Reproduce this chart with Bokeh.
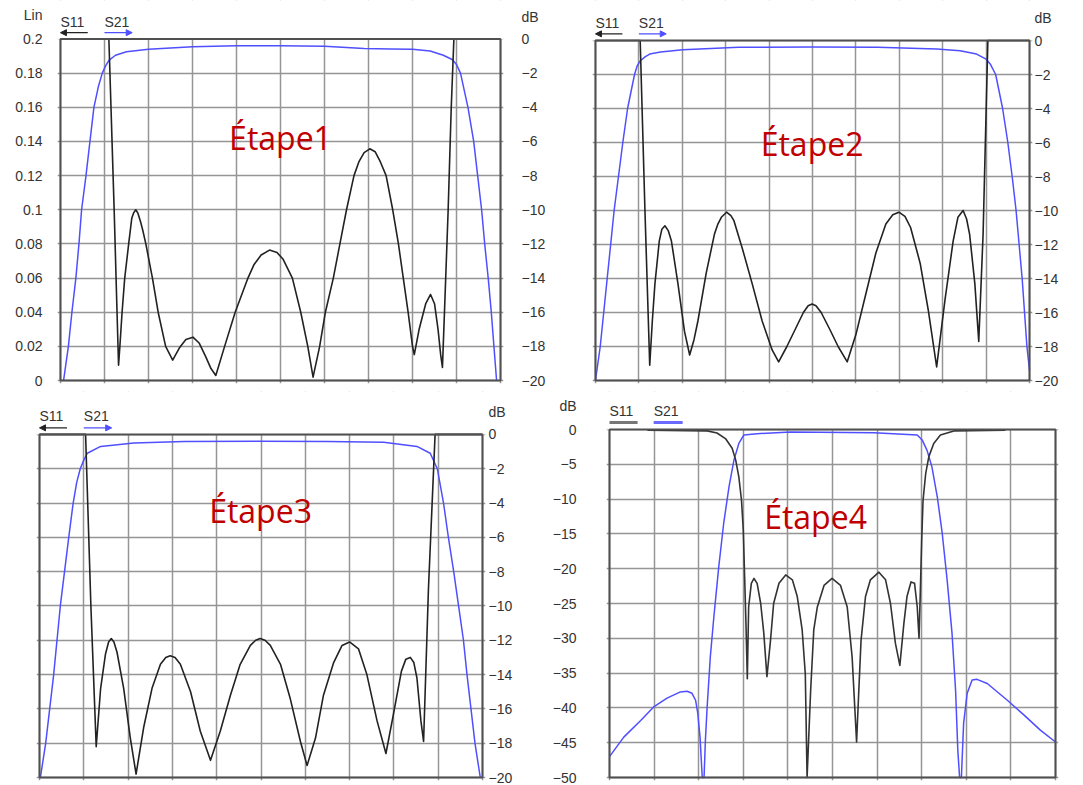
from bokeh.plotting import figure
from bokeh.models import (Range1d, LinearAxis, FixedTicker, NumeralTickFormatter,
                          Arrow, NormalHead, Grid, BoxAnnotation)
from bokeh.layouts import row, column
from bokeh.embed import file_html
from bokeh.resources import INLINE
from bokeh.core.properties import value

# ---------------- data ----------------
GRID_X = [0, 1, 2, 3, 4, 5, 6, 7, 8, 9, 10]
LIN_TICKS = [0, 0.02, 0.04, 0.06, 0.08, 0.1, 0.12, 0.14, 0.16, 0.18, 0.2]
DB20_TICKS = [0, -2, -4, -6, -8, -10, -12, -14, -16, -18, -20]
DB50_TICKS = [0, -5, -10, -15, -20, -25, -30, -35, -40, -45, -50]
TITLES = ["Étape1", "Étape2", "Étape3", "Étape4"]
LEGEND = ["S11", "S21"]

# Etape 1 : S11 (linear), S21 (dB)
P1_S11_X = [1.10, 1.16, 1.22, 1.28, 1.32, 1.35, 1.40, 1.46, 1.55, 1.62, 1.66, 1.71, 1.76, 1.82, 1.87,
            1.94, 2.09, 2.22, 2.39, 2.55, 2.70, 2.85, 3.01, 3.15, 3.30, 3.42, 3.53, 3.73, 3.97, 4.26,
            4.40, 4.56, 4.75, 4.92, 5.06, 5.27, 5.46, 5.62, 5.74, 5.89, 6.02, 6.20, 6.35, 6.50, 6.67,
            6.78, 6.90, 7.03, 7.15, 7.27, 7.40, 7.55, 7.68, 7.79, 7.90, 8.00, 8.04, 8.15, 8.30, 8.41,
            8.50, 8.58, 8.64, 8.68, 8.74, 8.81, 8.88, 8.94]
P1_S11_Y = [0.20, 0.15, 0.10, 0.045, 0.009, 0.02, 0.04, 0.06, 0.08, 0.095, 0.098, 0.100, 0.098, 0.093, 0.088,
            0.08, 0.06, 0.04, 0.02, 0.012, 0.019, 0.024, 0.0254, 0.022, 0.014, 0.007, 0.003, 0.02, 0.04, 0.06,
            0.068, 0.0735, 0.0764, 0.075, 0.071, 0.06, 0.04, 0.02, 0.002, 0.02, 0.04, 0.06, 0.08, 0.10, 0.12,
            0.128, 0.1335, 0.1357, 0.134, 0.128, 0.12, 0.10, 0.08, 0.06, 0.04, 0.02, 0.0152, 0.03, 0.045, 0.0504,
            0.045, 0.03, 0.015, 0.0077, 0.05, 0.10, 0.16, 0.20]
P1_S21_X = [0.07, 0.18, 0.26, 0.35, 0.42, 0.48, 0.58, 0.67, 0.76, 0.86, 0.95, 1.02, 1.10, 1.25, 1.50,
            2.00, 2.50, 3.00, 3.50, 4.00, 5.00, 6.00, 6.90, 7.50, 8.00, 8.40, 8.70, 8.90, 9.00, 9.09,
            9.26, 9.39, 9.48, 9.57, 9.64, 9.72, 9.79, 9.85, 9.91]
P1_S21_Y = [-20, -18, -16, -14, -12, -10, -8, -6, -4, -2.8, -2.0, -1.6, -1.25, -0.95, -0.75,
            -0.6, -0.52, -0.45, -0.42, -0.4, -0.4, -0.42, -0.55, -0.58, -0.6, -0.7, -0.95, -1.2, -1.5, -2.0,
            -4, -6, -8, -10, -12, -14, -16, -18, -20]

# Etape 2 : dB
P2_S11_X = [0, 1.03, 1.14, 1.25, 1.31, 1.37, 1.47, 1.53, 1.60, 1.68, 1.75, 1.90, 2.05, 2.17, 2.27,
            2.36, 2.55, 2.74, 2.82, 2.90, 3.02, 3.12, 3.19, 3.38, 3.61, 3.84, 4.07, 4.22, 4.41, 4.60,
            4.79, 4.90, 4.99, 5.08, 5.20, 5.40, 5.59, 5.80, 6.00, 6.23, 6.46, 6.69, 6.85, 6.99, 7.13,
            7.26, 7.48, 7.67, 7.86, 8.05, 8.24, 8.35, 8.47, 8.55, 8.62, 8.74, 8.83, 8.93, 9.04, 10]
P2_S11_Y = [0, 0, -10, -19.1, -16.5, -14.3, -11.8, -11.1, -10.9, -11.2, -11.8, -14.3, -17.1, -18.5, -17.6,
            -16.5, -13.7, -11.4, -10.8, -10.4, -10.1, -10.3, -10.6, -12.2, -14.3, -16.5, -18.2, -18.9, -18.0, -17.0,
            -16.0, -15.6, -15.5, -15.6, -16.0, -17.0, -18.0, -18.9, -17.3, -14.9, -12.5, -10.8, -10.25, -10.1, -10.35,
            -11.0, -13.1, -15.9, -19.2, -15.3, -11.8, -10.4, -10.0, -10.5, -11.4, -14.3, -17.7, -11.4, 0, 0]
P2_S21_X = [0, 0.11, 0.27, 0.43, 0.63, 0.74, 0.82, 0.90, 0.96, 1.03, 1.15, 1.25, 1.50, 2.01, 3.30,
            5.00, 6.50, 7.86, 8.40, 8.78, 9.00, 9.10, 9.22, 9.38, 9.50, 9.60, 9.69, 9.83, 9.94, 10.0]
P2_S21_Y = [-20, -18, -14, -10, -6, -4, -3, -2, -1.5, -1.2, -0.95, -0.8, -0.68, -0.55, -0.4,
            -0.38, -0.4, -0.5, -0.6, -0.8, -1.1, -1.4, -2, -4, -6, -8, -10, -14, -18, -19.4]

# Etape 3 : dB
P3_S11_X = [0, 1.04, 1.16, 1.28, 1.38, 1.49, 1.56, 1.62, 1.68, 1.75, 1.90, 2.05, 2.18, 2.35, 2.54,
            2.73, 2.85, 2.95, 3.06, 3.18, 3.41, 3.63, 3.86, 4.08, 4.31, 4.53, 4.76, 4.88, 4.98, 5.09,
            5.21, 5.44, 5.66, 5.89, 6.04, 6.23, 6.41, 6.64, 6.83, 7.00, 7.20, 7.39, 7.62, 7.82, 7.99,
            8.17, 8.27, 8.37, 8.45, 8.52, 8.61, 8.67, 8.78, 8.93, 10]
P3_S11_Y = [0, 0, -10, -18.2, -14.8, -12.8, -12.1, -11.9, -12.1, -12.7, -14.8, -17.7, -19.8, -17.1, -14.8,
            -13.4, -13.0, -12.9, -13.0, -13.4, -15.0, -17.3, -19.0, -17.3, -15.2, -13.4, -12.3, -12.0, -11.9, -12.0,
            -12.3, -13.4, -15.4, -17.9, -19.3, -17.7, -15.2, -13.3, -12.3, -12.1, -12.5, -14.0, -16.7, -18.6, -16.3,
            -13.8, -13.1, -13.0, -13.3, -14.2, -16.7, -17.9, -9.0, 0, 0]
P3_S21_X = [0.02, 0.14, 0.32, 0.47, 0.66, 0.76, 0.84, 0.92, 1.00, 1.08, 1.38, 2.13, 3.26, 5.00, 6.50,
            7.77, 8.52, 8.82, 8.98, 9.12, 9.23, 9.35, 9.46, 9.57, 9.65, 9.74, 9.83, 9.95]
P3_S21_Y = [-20, -18, -14, -10, -6, -4, -2.8, -2.0, -1.5, -1.1, -0.7, -0.5, -0.42, -0.4, -0.42,
            -0.46, -0.7, -1.1, -2, -4, -6, -8, -10, -12, -14, -16, -18, -20]

# Etape 4 : dB
P4_S11_X = [0.85, 2.19, 2.41, 2.60, 2.75, 2.83, 2.90, 2.96, 3.00, 3.03, 3.06, 3.09, 3.12, 3.18, 3.24,
            3.31, 3.39, 3.46, 3.53, 3.61, 3.68, 3.80, 3.95, 4.10, 4.21, 4.32, 4.39, 4.43, 4.51, 4.58,
            4.66, 4.81, 4.99, 5.18, 5.33, 5.44, 5.54, 5.59, 5.64, 5.74, 5.85, 6.04, 6.19, 6.30, 6.41,
            6.51, 6.60, 6.67, 6.76, 6.84, 6.90, 6.94, 6.97, 7.00, 7.03, 7.09, 7.16, 7.27, 7.42, 7.72,
            8.88]
P4_S11_Y = [-0.1, -0.2, -0.5, -1.3, -2.7, -4.4, -6.8, -10.2, -14.5, -21.2, -27.9, -35.8, -25.5, -22.1, -21.4,
            -22.1, -25.0, -29.3, -35.5, -30.3, -25.0, -22.1, -20.9, -21.6, -24.0, -28.8, -35.1, -50, -37.5, -28.8,
            -25.5, -22.4, -21.4, -22.4, -25.5, -32.7, -44.9, -37.5, -30.3, -24.0, -21.6, -20.5, -21.6, -25.0, -30.7,
            -33.9, -27.9, -24.0, -21.9, -22.1, -25.5, -30.0, -23.1, -15.9, -10.2, -6.3, -3.9, -2.0, -0.8, -0.2,
            -0.1]
P4_S21_X = [0, 0.32, 0.70, 1.00, 1.29, 1.59, 1.74, 1.85, 1.93, 1.98, 2.03, 2.08, 2.12, 2.15, 2.19,
            2.26, 2.34, 2.45, 2.56, 2.68, 2.79, 2.90, 3.01, 3.31, 4.06, 5.93, 6.90, 7.01, 7.12, 7.23,
            7.35, 7.46, 7.57, 7.68, 7.76, 7.81, 7.85, 7.89, 7.94, 8.02, 8.13, 8.24, 8.47, 8.92, 9.29,
            9.66, 10.0]
P4_S21_Y = [-47, -44.2, -41.8, -39.8, -38.6, -37.7, -37.6, -37.9, -38.9, -40.8, -44.2, -50, -50, -44.7, -39.8,
            -32.7, -26.9, -19.7, -13.5, -8.2, -4.4, -2.0, -0.8, -0.6, -0.35, -0.45, -0.8, -1.5, -3.0, -5.4,
            -9.7, -14.9, -21.6, -29.3, -37.5, -46.1, -50, -50, -42.2, -37.9, -36.0, -35.9, -36.5, -38.9, -41.0,
            -43.2, -44.9]

# ---------------- styling helpers ----------------
BLUE = "#4f4fff"
BLACK = "#222222"
RED = "#C00000"
TXT = "#333333"
FONT = "Liberation Sans"
PAD = 3  # px of frame kept around the drawn plot box so its border is not clipped


def yrange(ybot, ytop, box_h, top_px):
    u = (ytop - ybot) / box_h
    return Range1d(ybot - PAD * u, ytop + top_px * u)


def base(width, height, box_left, box_w, top_px, box_h, ybot, ytop, yloc):
    xu = 10.0 / box_w
    p = figure(width=width, height=height,
               x_range=Range1d(-PAD * xu, 10 + PAD * xu),
               y_range=yrange(ybot, ytop, box_h, top_px),
               x_axis_location=None, y_axis_location=yloc, toolbar_location=None,
               output_backend="svg", title=None,
               min_border_left=box_left - PAD,
               min_border_right=width - box_left - box_w - PAD,
               min_border_top=0,
               min_border_bottom=height - top_px - box_h - PAD)
    p.outline_line_color = None
    p.background_fill_color = "white"
    p.border_fill_color = "white"
    grids = [r for r in p.center if isinstance(r, Grid)]
    if not any(g.dimension == 0 for g in grids):
        g = Grid(dimension=0)
        p.add_layout(g, "center")
        grids.append(g)
    for g in grids:
        if g.dimension == 0:
            g.ticker = FixedTicker(ticks=GRID_X)
        g.grid_line_color = "#959595"
        g.grid_line_width = 1.5
    return p


def style_axis(ax, ticks, standoff, fmt=None, extra=None):
    t = list(ticks)
    if extra is not None:
        t.append(extra[0])
        ax.major_label_overrides = {extra[0]: extra[1]}
    ax.ticker = FixedTicker(ticks=t)
    ax.axis_line_color = None
    ax.major_tick_line_color = None
    ax.minor_tick_line_color = None
    ax.major_tick_out = 0
    ax.major_tick_in = 0
    ax.minor_tick_out = 0
    ax.minor_tick_in = 0
    ax.major_label_standoff = standoff - PAD
    ax.major_label_text_font = FONT
    ax.major_label_text_font_size = "14px"
    ax.major_label_text_color = TXT
    if fmt is not None:
        ax.formatter = fmt


def ygrid(p, ticks):
    for g in p.center:
        if isinstance(g, Grid) and g.dimension == 1:
            g.ticker = FixedTicker(ticks=ticks)


def box(p, ybot, ytop, y_name="default"):
    end = p.y_range.end if y_name == "default" else p.extra_y_ranges[y_name].end
    # white band above the plot box (legend area), white margin strips, and the dark box border
    p.add_layout(BoxAnnotation(left=-1, right=11, bottom=ytop, top=end,
                               fill_color="white", fill_alpha=1.0, line_color=None,
                               level="underlay", y_range_name=y_name))
    p.add_layout(BoxAnnotation(left=0, right=10, bottom=ybot, top=ytop,
                               fill_color=None, fill_alpha=0.0,
                               line_color="#505050", line_alpha=1.0, line_width=2,
                               level="annotation", y_range_name=y_name))


def legend(p, xs, y_txt, y_arr, arrows=True):
    p.text(x=xs, y=[y_txt, y_txt], text=LEGEND, text_font=value(FONT), text_font_size="14px",
           text_color=TXT, text_align="left", text_baseline="middle")
    if arrows:
        for (x0, x1, c) in [(xs[0] + 0.62, xs[0], BLACK), (xs[1], xs[1] + 0.63, BLUE)]:
            p.add_layout(Arrow(end=NormalHead(size=6, fill_color=c, line_color=c, line_width=1),
                               x_start=x0, y_start=y_arr, x_end=x1, y_end=y_arr,
                               line_color=c, line_width=1.2))
    else:
        for (x0, x1, c) in [(xs[0], xs[0] + 0.63, "#777777"), (xs[1], xs[1] + 0.65, "#6a6aff")]:
            p.add_layout(Arrow(end=None, x_start=x0, y_start=y_arr, x_end=x1, y_end=y_arr,
                               line_color=c, line_width=3))


def title_text(p, x, y, s, **kw):
    p.text(x=[x], y=[y], text=[s], text_font=value("Open Sans"), text_font_size="32px",
           text_color=RED, text_align="center", text_baseline="alphabetic", **kw)


# ---------------- Etape 1 ----------------
p1 = base(548, 391, 60, 445, 39, 346, 0, 0.2, "left")
p1.extra_y_ranges = {"db": yrange(-20, 0, 346, 39)}
style_axis(p1.yaxis[0], LIN_TICKS, 18, NumeralTickFormatter(format="0.[00]"), (0.2141, "Lin"))
ax_r = LinearAxis(y_range_name="db")
style_axis(ax_r, DB20_TICKS, 21, None, (1.29, "dB"))
p1.add_layout(ax_r, "right")
ygrid(p1, LIN_TICKS)
box(p1, 0, 0.2)
p1.line(P1_S21_X, P1_S21_Y, y_range_name="db", line_color=BLUE, line_width=1.5, line_join="round")
p1.line(P1_S11_X, P1_S11_Y, line_color=BLACK, line_width=1.6, line_join="round")
title_text(p1, 5.0, 0.1423, TITLES[0])
legend(p1, [0.0, 1.0], 0.2100, 0.2037)

# ---------------- Etape 2 ----------------
p2 = base(513, 391, 47, 439, 40, 340, -20, 0, "right")
style_axis(p2.yaxis[0], DB20_TICKS, 5, None, (1.34, "dB"))
ygrid(p2, DB20_TICKS)
box(p2, -20, 0)
p2.line(P2_S21_X, P2_S21_Y, line_color=BLUE, line_width=1.5, line_join="round")
p2.line(P2_S11_X, P2_S11_Y, line_color=BLACK, line_width=1.6, line_join="round")
title_text(p2, 4.99, -6.04, TITLES[1])
legend(p2, [0.0, 1.0], 1.04, 0.39)

# ---------------- Etape 3 ----------------
p3 = base(548, 394, 39, 443, 43, 344, -20, 0, "right")
style_axis(p3.yaxis[0], DB20_TICKS, 6, None, (1.31, "dB"))
ygrid(p3, DB20_TICKS)
box(p3, -20, 0)
p3.line(P3_S21_X, P3_S21_Y, line_color=BLUE, line_width=1.5, line_join="round")
p3.line(P3_S11_X, P3_S11_Y, line_color=BLACK, line_width=1.6, line_join="round")
title_text(p3, 4.99, -4.44, TITLES[2])
legend(p3, [0.0, 1.0], 1.08, 0.38)

# ---------------- Etape 4 ----------------
p4 = base(513, 394, 61, 446, 38, 348, -50, 0, "left")
style_axis(p4.yaxis[0], DB50_TICKS, 33, None, (3.35, "dB"))
ygrid(p4, DB50_TICKS)
box(p4, -50, 0)
p4.line(P4_S21_X, P4_S21_Y, line_color=BLUE, line_width=1.5, line_join="round")
p4.line(P4_S11_X, P4_S11_Y, line_color="#333333", line_width=1.6, line_join="round")
title_text(p4, 4.62, -12.46, TITLES[3])
legend(p4, [0.0, 0.99], 2.67, 1.0, arrows=False)

layout = column(row(p1, p2), row(p3, p4))

with open("out.html", "w") as f:
    f.write(file_html(layout, INLINE))
